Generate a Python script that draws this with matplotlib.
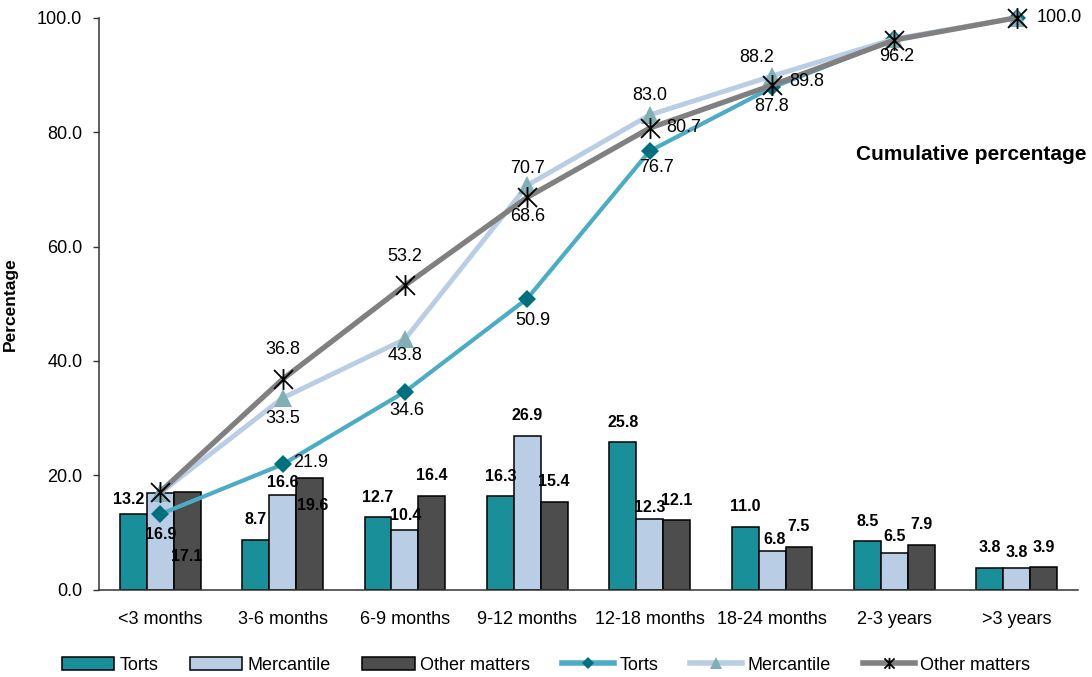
import matplotlib
matplotlib.use("Agg")
import matplotlib.pyplot as plt
import numpy as np
from matplotlib.path import Path
from matplotlib.lines import Line2D
from matplotlib.patches import Patch

plt.rcParams["font.family"] = ["Liberation Sans", "DejaVu Sans"]

# ---- data -------------------------------------------------------------
categories = ["<3 months", "3-6 months", "6-9 months", "9-12 months",
              "12-18 months", "18-24 months", "2-3 years", ">3 years"]
series_names = ["Torts", "Mercantile", "Other matters"]

torts_pct = [13.2, 8.7, 12.7, 16.3, 25.8, 11.0, 8.5, 3.8]
mercantile_pct = [16.9, 16.6, 10.4, 26.9, 12.3, 6.8, 6.5, 3.8]
other_pct = [17.1, 19.6, 16.4, 15.4, 12.1, 7.5, 7.9, 3.9]

torts_cum = [13.2, 21.9, 34.6, 50.9, 76.7, 87.8, 96.2, 100.0]
mercantile_cum = [16.9, 33.5, 43.8, 70.7, 83.0, 89.8, 96.3, 100.0]
other_cum = [17.1, 36.8, 53.2, 68.6, 80.7, 88.2, 96.1, 100.0]

yticks = [0, 20, 40, 60, 80, 100]

# ---- styling ----------------------------------------------------------
bar_colors = ["#198F9A", "#B9CDE5", "#4D4D4D"]
line_colors = ["#4BACC6", "#B9CDE5", "#808080"]
marker_colors = ["#00707E", "#80AFB6", "#000000"]

PX = 72.0 / 100.0  # pixel -> point at 100 dpi

# bar value label offsets (dx, dy) in pixels from the top centre of each bar
bar_default = (0, 20)
bar_offsets = {
    (0, 0): (-5, 15), (1, 0): (1, -41), (2, 0): (0, -65),
    (1, 1): (0, 12), (2, 1): (3, -28),
    (1, 2): (1, 15),
    (1, 4): (0, 12),
    (1, 5): (2, 11),
    (1, 6): (0, 16),
    (1, 7): (0, 15),
}

# cumulative label offsets (dx, dy) in pixels from each marker
line_label_offsets = [
    {1: (28, 2), 2: (2, -19), 3: (6, -22), 4: (7, -17), 5: (0, -19),
     6: (2, -17), 7: (42, 0)},
    {1: (0, -20), 2: (0, -16), 3: (0, 17), 4: (0, 19), 5: (35, -5)},
    {1: (0, 30), 2: (0, 29), 3: (0, -19), 4: (34, 1), 5: (-15, 28)},
]

# asterisk-style marker: an X crossed by a vertical stroke
star_path = Path(
    [(-1, -1), (1, 1), (-1, 1), (1, -1), (0, -1.1), (0, 1.1)],
    [Path.MOVETO, Path.LINETO, Path.MOVETO, Path.LINETO, Path.MOVETO, Path.LINETO],
)

fig = plt.figure(figsize=(10.92, 6.77), dpi=100)
ax = fig.add_axes([99 / 1092, 1 - 589.7 / 677, 979 / 1092, 572 / 677])

x = np.arange(len(categories))
bar_w = 0.22
bar_values = [torts_pct, mercantile_pct, other_pct]
for s, vals in enumerate(bar_values):
    xs = x + (s - 1) * bar_w
    ax.bar(xs, vals, width=bar_w, color=bar_colors[s], edgecolor="black",
           linewidth=1.1, zorder=2)
    for i, v in enumerate(vals):
        dx, dy = bar_offsets.get((s, i), bar_default)
        ax.annotate(f"{v:.1f}", (xs[i], v), xytext=(dx * PX, dy * PX),
                    textcoords="offset points", ha="center", va="center",
                    fontsize=11.5, fontweight="bold", color="black", zorder=6)

cum_values = [torts_cum, mercantile_cum, other_cum]
marker_specs = [
    dict(marker="D", markersize=9.5, markerfacecolor=marker_colors[0],
         markeredgewidth=0),
    dict(marker="^", markersize=13, markerfacecolor=marker_colors[1],
         markeredgewidth=0),
    dict(marker=star_path, markersize=15, markerfacecolor="none",
         markeredgecolor=marker_colors[2], markeredgewidth=1.3),
]
line_widths = [3.0, 3.5, 3.8]
for s, vals in enumerate(cum_values):
    ax.plot(x, vals, color=line_colors[s], linewidth=line_widths[s],
            zorder=3 + s * 0.1, clip_on=False, **marker_specs[s])
    for i, (dx, dy) in line_label_offsets[s].items():
        ax.annotate(f"{vals[i]:.1f}", (x[i], vals[i]),
                    xytext=(dx * PX, dy * PX), textcoords="offset points",
                    ha="center", va="center", fontsize=13, color="black",
                    zorder=6, annotation_clip=False)

ax.set_xlim(-0.5, len(categories) - 0.5)
ax.set_ylim(0, 100)
ax.set_yticks(yticks)
ax.set_yticklabels([f"{t:.1f}" for t in yticks])
ax.set_xticks(x)
ax.set_xticklabels(categories)
ax.tick_params(axis="y", length=4, width=1, color="#333333", pad=8,
               labelsize=13, direction="out")
ax.tick_params(axis="x", length=0, pad=15, labelsize=13)
for side in ["top", "right"]:
    ax.spines[side].set_visible(False)
ax.spines["left"].set_color("#333333")
ax.spines["bottom"].set_color("#333333")
ax.spines["left"].set_linewidth(1.1)
ax.spines["bottom"].set_linewidth(1.1)

ax.set_ylabel("Percentage", fontsize=12.5, fontweight="bold")
ax.yaxis.set_label_coords(-0.083, 0.5)

fig.text(1086 / 1092, 1 - 155 / 677, "Cumulative percentage", ha="right",
         va="center", fontsize=15, fontweight="bold")

# legend: bars first, then cumulative lines
handles = [Patch(facecolor=bar_colors[s], edgecolor="black", linewidth=1.1)
           for s in range(3)]
handles += [
    Line2D([], [], color=line_colors[0], linewidth=4, marker="D",
           markersize=6.5, markerfacecolor=marker_colors[0], markeredgewidth=0),
    Line2D([], [], color=line_colors[1], linewidth=4, marker="^",
           markersize=8, markerfacecolor=marker_colors[1], markeredgewidth=0),
    Line2D([], [], color=line_colors[2], linewidth=4, marker=star_path,
           markersize=8, markerfacecolor="none",
           markeredgecolor=marker_colors[2], markeredgewidth=1.3),
]
labels = series_names + series_names
fig.legend(handles, labels, loc="center", ncol=6,
           bbox_to_anchor=(0.5, 1 - 665 / 677), frameon=False,
           fontsize=13, handlelength=2.9, handletextpad=0.3,
           columnspacing=1.75)

fig.savefig("out.png", dpi=100)
